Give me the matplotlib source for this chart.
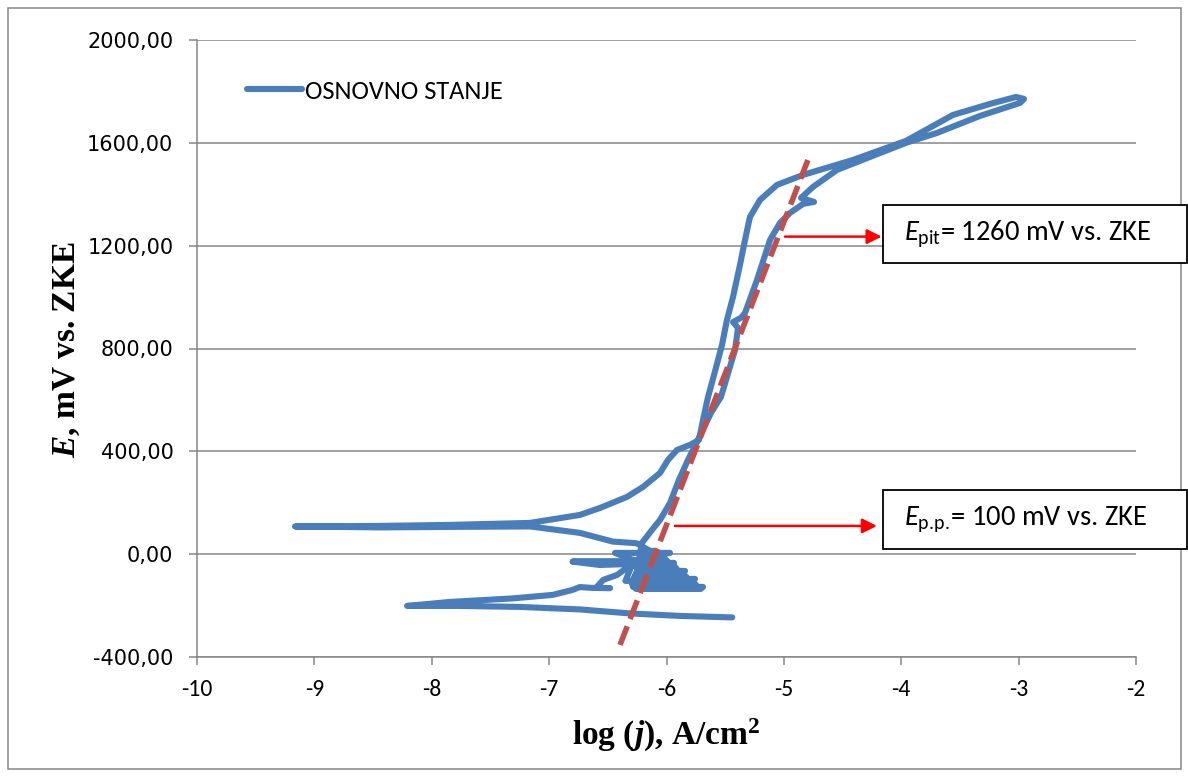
import matplotlib
matplotlib.use("Agg")
import matplotlib.pyplot as plt
from matplotlib import font_manager
from matplotlib.patches import Rectangle
from matplotlib.ticker import FuncFormatter

names = {f.name for f in font_manager.fontManager.ttflist}
def pick(*cands):
    for c in cands:
        if c in names:
            return c
    return 'DejaVu Sans'

sans = pick('Carlito', 'Liberation Sans')
narrow = pick('Carlito', 'Liberation Sans Narrow', 'Liberation Sans')
serif = pick('Liberation Serif', 'DejaVu Serif')

plt.rcParams['axes.unicode_minus'] = False
plt.rcParams['path.simplify'] = False
plt.rcParams['mathtext.fontset'] = 'custom'
plt.rcParams['mathtext.rm'] = sans
plt.rcParams['mathtext.it'] = sans + ':italic'
plt.rcParams['mathtext.bf'] = serif + ':bold'
plt.rcParams['mathtext.bfit'] = serif + ':italic:bold'

# polarization curve, log j (A/cm2) vs E (mV vs. ZKE)
logj = [
    # cathodic branch, start of scan
    -5.44, -5.885, -6.31, -6.74, -7.25, -7.76, -8.21,
    # anodic going right from Ecorr, with streaks
    -7.85, -7.31, -6.97, -6.80, -6.74, -6.63, -6.48, -6.60, -6.54, -6.42, -6.34,
    -6.20, -6.80, -6.57, -6.29, -6.35, -6.26, -6.21,
    # noisy blob
    -6.170, -6.098, -6.078, -6.178, -6.186, -6.055, -6.037, -6.194, -6.202, -6.013,
    -5.995, -6.210, -6.218, -5.936, -5.954, -6.226, -6.234, -5.928, -5.913, -6.242,
    -6.250, -5.842, -5.872, -6.258, -6.266, -5.851, -5.831, -6.274, -6.282, -5.757,
    -5.790, -6.290, -6.294, -5.766, -5.749, -6.290, -6.285, -5.689, -5.708, -6.260,
    -6.25, -6.209,
    # passive region, forward
    -6.124, -6.055, -5.970, -5.894, -5.817, -5.732, -5.621, -5.536, -5.416,
    -5.391, -5.433, -5.365, -5.331, -5.229, -5.118, -5.033, -4.948, -4.837,
    -4.743, -4.854, -4.752,
    # breakdown loop
    -4.547, -4.266, -3.960, -3.695, -3.329, -2.988, -2.954, -3.022, -3.244,
    -3.559, -3.960, -4.411, -4.837, -5.059, -5.203, -5.289, -5.331, -5.374,
    -5.433, -5.485, -5.527, -5.595, -5.646, -5.689, -5.723,
    # reverse down to the bump and the left tail
    -5.800, -5.910, -5.987, -6.055, -6.200, -6.337, -6.566, -6.737, -7.163,
    -7.845, -8.441, -9.165,
    # lower branch of the pinch back into the blob
    -8.441, -7.845, -7.163, -6.737, -6.456, -6.255, -6.081, -5.970, -6.439,
    -6.30, -6.20, -6.797,
]
E = [
    -246.0, -240.2, -230.5, -214.9, -205.2, -201.3, -201.3,
    -186.0, -172.0, -158.5, -139.0, -128.0, -131.3, -132.0, -131.0, -100.2, -80.7, -53.5,
    -29.0, -29.0, -42.0, -38.0, -104.0, -104.0, -60.0,
    12.6, 12.6, 4.9, 4.9, -2.9, -2.9, -10.7, -10.7, -18.5, -18.5,
    -26.3, -26.3, -34.0, -34.0, -41.8, -41.8, -49.6, -49.6, -57.4, -57.4,
    -65.2, -65.2, -72.9, -72.9, -80.7, -80.7, -88.5, -88.5, -96.3, -96.3,
    -104.1, -104.1, -111.8, -111.8, -119.6, -119.6, -127.4, -127.4, -135.2, -135.2,
    -60.0, 43.8,
    94.3, 133.2, 199.4, 288.8, 366.6, 444.4, 549.4, 611.7, 794.5,
    880.1, 902.9, 919.5, 938.4, 1066.8, 1222.4, 1288.5, 1327.4, 1362.4,
    1370.2, 1385.7, 1428.5,
    1494.7, 1545.2, 1599.7, 1638.6, 1704.7, 1755.3, 1770.8, 1778.6, 1751.4,
    1708.6, 1607.5, 1533.5, 1475.2, 1436.3, 1378.0, 1311.8, 1222.4, 1125.1,
    1000.7, 911.2, 813.9, 697.2, 611.7, 522.2, 444.4,
    425.0, 405.5, 366.6, 316.0, 261.6, 222.7, 179.9, 152.7, 121.6,
    113.8, 109.9, 107.9,
    104.1, 106.0, 107.9, 82.7, 48.8, 42.6, -2.9, 4.9, 4.9,
    -20.0, -29.0, -29.0,
]

# tangent used for E p.p. / E pit
tan_x = [-6.396, -4.795]
tan_y = [-353.0, 1533.6]

xticks = [-10, -9, -8, -7, -6, -5, -4, -3, -2]
yticks = [-400, 0, 400, 800, 1200, 1600, 2000]

W, H = 1188, 776
fig = plt.figure(figsize=(W / 100, H / 100), dpi=100)
ax = fig.add_axes([197 / W, 1 - 657 / H, 939 / W, 617 / H])

grey = '#868686'
blue = '#4A7EBB'
ax.plot(logj, E, color=blue, lw=4.4, solid_capstyle='round',
        solid_joinstyle='round', label='OSNOVNO STANJE', zorder=3)
ax.plot(tan_x, tan_y, color='#C0504D', lw=4.0, dashes=(3.6, 1.4),
        dash_capstyle='butt', zorder=4)

ax.set_xlim(-10, -2)
ax.set_ylim(-400, 2000)
ax.set_xticks(xticks)
ax.set_yticks(yticks)
ax.xaxis.set_major_formatter(FuncFormatter(lambda v, p: '%d' % v))
ax.yaxis.set_major_formatter(FuncFormatter(lambda v, p: ('%.2f' % v).replace('.', ',')))
ax.grid(axis='y', color=grey, lw=1.1)
ax.set_axisbelow(True)
for s in ['top', 'right']:
    ax.spines[s].set_visible(False)
for s in ['left', 'bottom']:
    ax.spines[s].set_color(grey)
    ax.spines[s].set_linewidth(1.1)
ax.tick_params(axis='both', direction='out', length=6, width=1.1, color=grey)
ax.tick_params(axis='y', pad=11, labelsize=15)
ax.tick_params(axis='x', pad=10, labelsize=17)
for t in ax.get_xticklabels():
    t.set_fontfamily(narrow)

fig.text(66 / W, 1 - 350 / H, r'$\mathbfit{E}$, mV vs. ZKE', rotation=90,
         ha='center', va='center', family=serif, weight='bold', fontsize=24)
fig.text(666 / W, 1 - 735 / H, r'log ($\mathbfit{j}$), A/cm$^{\mathbf{2}}$',
         ha='center', va='center', family=serif, weight='bold', fontsize=24)

leg = ax.legend(loc='center left', bbox_to_anchor=(50 / 939, 0.917), frameon=False,
                handlelength=2.08, handletextpad=0.11, borderpad=0, borderaxespad=0,
                prop={'family': sans, 'size': 19})

arrow = dict(arrowstyle='-|>', color='red', lw=1.8, mutation_scale=22,
             shrinkA=0, shrinkB=0)
ax.annotate('', xy=(-4.1665, 1235.2), xytext=(-4.9904, 1235.2),
            arrowprops=arrow, zorder=5, annotation_clip=False)
ax.annotate('', xy=(-4.207, 109.9), xytext=(-5.928, 109.9),
            arrowprops=arrow, zorder=5, annotation_clip=False)

# text boxes, figure pixel coords
for (y0, y1, txt) in [(205, 263, r'$E_{\mathrm{pit}}$= 1260 mV vs. ZKE'),
                      (490, 549, r'$E_{\mathrm{p.\!p.\!}}$= 100 mV vs. ZKE')]:
    fig.patches.append(Rectangle((883 / W, 1 - y1 / H), (1187 - 883) / W, (y1 - y0) / H,
                                 transform=fig.transFigure, facecolor='white',
                                 edgecolor='black', lw=1.3, zorder=6))
    fig.text(904 / W, 1 - (y0 + y1) / 2 / H, txt, ha='left', va='center',
             family=sans, fontsize=20.5, zorder=7)

# outer chart frame
fig.patches.append(Rectangle((8 / W, 1 - 769 / H), (1181 - 8) / W, (769 - 8) / H,
                             transform=fig.transFigure, fill=False,
                             edgecolor=grey, lw=1.1, zorder=0))

fig.savefig('out.png', dpi=100)
